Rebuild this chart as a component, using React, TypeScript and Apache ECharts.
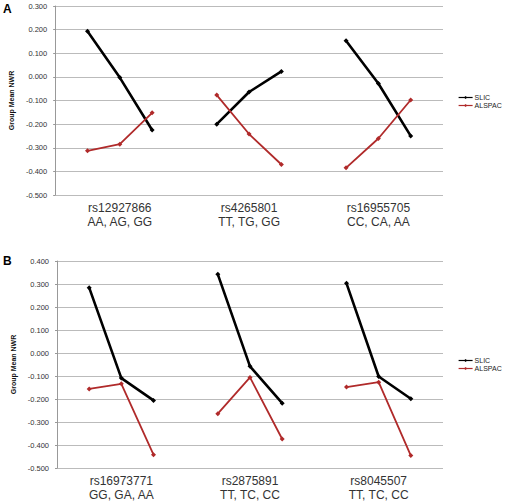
import React, { useEffect, useRef } from "react";
import * as echarts from "echarts";

const SLOTS = 13;
const GROUP_SLOTS = [1, 2, 3, 5, 6, 7, 9, 10, 11];
const LABEL_SLOTS = [2, 6, 10];

const A_LABELS = ["rs12927866\nAA, AG, GG", "rs4265801\nTT, TG, GG", "rs16955705\nCC, CA, AA"];
const A_SLIC = [0.193, -0.003, -0.225, -0.200, -0.064, 0.023, 0.153, -0.028, -0.250];
const A_ALSPAC = [-0.313, -0.285, -0.152, -0.077, -0.242, -0.371, -0.385, -0.261, -0.098];

const B_LABELS = ["rs16973771\nGG, GA, AA", "rs2875891\nTT, TC, CC", "rs8045507\nTT, TC, CC"];
const B_SLIC = [0.284, -0.109, -0.206, 0.342, -0.058, -0.218, 0.303, -0.102, -0.199];
const B_ALSPAC = [-0.156, -0.134, -0.442, -0.264, -0.106, -0.374, -0.148, -0.127, -0.446];

const FONT = "Arial, 'Liberation Sans', sans-serif";

function cats(labels: string[]) {
  const arr: string[] = new Array(SLOTS).fill("");
  LABEL_SLOTS.forEach((s, i) => (arr[s] = labels[i]));
  return arr;
}

function slotData(vals: number[]) {
  const arr: (number | string)[] = new Array(SLOTS).fill("-");
  GROUP_SLOTS.forEach((s, i) => (arr[s] = vals[i]));
  return arr;
}

export default function App() {
  const ref = useRef<HTMLDivElement>(null);
  useEffect(() => {
    if (!ref.current) return;
    const chart = echarts.init(ref.current, null, { renderer: "svg" });
    const xAxisBase = (idx: number, labels: string[]) => ({
      type: "category",
      gridIndex: idx,
      data: cats(labels),
      boundaryGap: false,
      axisLine: { show: false },
      axisTick: { show: false },
      splitLine: { show: false },
      axisLabel: {
        interval: 0,
        fontSize: 12,
        lineHeight: 14,
        color: "#333",
        fontFamily: FONT,
        margin: 6,
      },
    });
    const yAxisBase = (idx: number, max: number) => ({
      type: "value",
      gridIndex: idx,
      min: -0.5,
      max,
      interval: 0.1,
      name: "Group Mean NWR",
      nameLocation: "middle",
      nameGap: 36,
      nameTextStyle: { fontSize: 7, fontWeight: "bold", color: "#111", fontFamily: FONT },
      axisLine: { show: true, lineStyle: { color: "#999", width: 1 } },
      axisTick: { show: true, length: 2, lineStyle: { color: "#999" } },
      splitLine: { show: true, lineStyle: { color: "#bbb", width: 1 } },
      axisLabel: {
        fontSize: 7.5,
        color: "#333",
        fontFamily: FONT,
        margin: 8,
        formatter: (v: number) => v.toFixed(3),
      },
    });
    const slic = (idx: number, vals: number[]) => ({
      name: "SLIC",
      type: "line",
      xAxisIndex: idx,
      yAxisIndex: idx,
      data: slotData(vals),
      connectNulls: false,
      symbol: "diamond",
      symbolSize: 5,
      itemStyle: { color: "#000" },
      lineStyle: { color: "#000", width: 2.6 },
    });
    const alspac = (idx: number, vals: number[]) => ({
      name: "ALSPAC",
      type: "line",
      xAxisIndex: idx,
      yAxisIndex: idx,
      data: slotData(vals),
      connectNulls: false,
      symbol: "diamond",
      symbolSize: 5,
      itemStyle: { color: "#b02a2a" },
      lineStyle: { color: "#b02a2a", width: 1.8 },
    });
    const legendBase = (top: number) => ({
      orient: "vertical",
      left: 453,
      top,
      itemWidth: 14,
      itemHeight: 4,
      itemGap: 1,
      lineStyle: { width: 1.2 },
      textStyle: { fontSize: 7, color: "#222", fontFamily: FONT, padding: [0, 0, 0, -3] },
      data: ["SLIC", "ALSPAC"],
    });
    chart.setOption({
      animation: false,
      backgroundColor: "#fff",
      grid: [
        { left: 55, top: 6, width: 388, height: 189 },
        { left: 57, top: 261, width: 386, height: 207 },
      ],
      xAxis: [xAxisBase(0, A_LABELS), xAxisBase(1, B_LABELS)],
      yAxis: [yAxisBase(0, 0.3), yAxisBase(1, 0.4)],
      legend: [legendBase(89), legendBase(352)],
      graphic: [
        { type: "text", left: 3, top: 3, style: { text: "A", fontSize: 12, fontWeight: "bold", fill: "#000", fontFamily: FONT } },
        { type: "text", left: 3, top: 255, style: { text: "B", fontSize: 12, fontWeight: "bold", fill: "#000", fontFamily: FONT } },
      ],
      series: [slic(0, A_SLIC), alspac(0, A_ALSPAC), slic(1, B_SLIC), alspac(1, B_ALSPAC)],
    });
    return () => chart.dispose();
  }, []);
  return (
    <div
      ref={ref}
      style={{ position: "fixed", left: 0, top: 0, width: 506, height: 503 }}
    />
  );
}
